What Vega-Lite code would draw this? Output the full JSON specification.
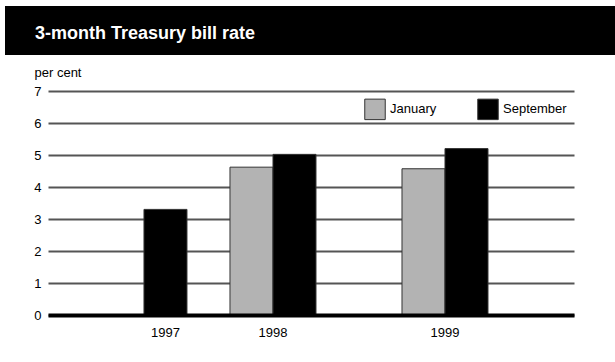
{
  "$schema": "https://vega.github.io/schema/vega-lite/v6.json",
  "padding": {"left": 5, "top": 6, "right": 0, "bottom": 0},
  "background": "white",
  "config": {"font": "Liberation Sans", "view": {"stroke": null}},
  "spacing": 11,
  "resolve": {"legend": {"color": "independent"}},
  "vconcat": [
    {
      "width": 610,
      "height": 49,
      "view": {"fill": "black", "stroke": null},
      "title": {"text": "3-month Treasury bill rate", "anchor": "start", "orient": "top", "frame": "group", "offset": -51, "baseline": "alphabetic", "dx": 30, "color": "white", "fontSize": 18, "fontWeight": "bold", "font": "Liberation Sans"},
      "data": {"values": []},
      "mark": "point"
    },
    {
      "spacing": 0,
      "resolve": {"legend": {"color": "independent"}},
      "hconcat": [
        {"width": 1, "height": 1, "data": {"values": []}, "mark": "point"},
        {
          "width": 526,
          "height": 224,
          "data": {"values": [
            {"period": "Sep 1997", "year": "1997", "month": "September", "rate": 3.3},
            {"period": "Jan 1998", "year": "1998", "month": "January", "rate": 4.62},
            {"period": "Sep 1998", "year": "1998", "month": "September", "rate": 5.02},
            {"period": "Jan 1999", "year": "1999", "month": "January", "rate": 4.57},
            {"period": "Sep 1999", "year": "1999", "month": "September", "rate": 5.2}
          ]},
          "mark": {"type": "bar", "stroke": "#333333", "strokeWidth": 1},
          "encoding": {
            "x": {
              "field": "period", "type": "nominal", "sort": null,
              "scale": {"domain": ["gap a", "gap b", "Sep 1997", "gap c", "Jan 1998", "Sep 1998", "gap d", "gap e", "Jan 1999", "Sep 1999", "gap f", "gap g"], "paddingInner": 0, "paddingOuter": 0.116, "align": 1},
              "axis": {"title": null, "values": ["Sep 1997", "Jan 1998", "Jan 1999"], "labelExpr": "slice(datum.value, 4)", "labelAngle": 0,
                "labelOffset": {"condition": {"test": "slice(datum.value, 0, 3) == 'Jan'", "value": 21.5}, "value": 0},
                "ticks": false, "tickSize": 0, "labelPadding": 11, "domainColor": "black", "domainWidth": 4, "labelFontSize": 13, "labelColor": "black", "zindex": 1}
            },
            "y": {
              "field": "rate", "type": "quantitative", "stack": null,
              "scale": {"domain": [0, 7], "nice": false},
              "axis": {"title": "per cent", "titleAngle": 0, "titleX": -14, "titleY": -14.5, "titleAlign": "left", "titleBaseline": "alphabetic", "titleFontWeight": "normal", "titleFontSize": 13, "titleColor": "black",
                "values": [0, 1, 2, 3, 4, 5, 6, 7], "domain": false, "ticks": false, "tickSize": 0, "labelPadding": 7, "labelFontSize": 13, "labelColor": "black",
                "grid": true, "gridColor": "#555555", "gridWidth": 2, "minExtent": 42}
            },
            "color": {
              "field": "month", "type": "nominal",
              "scale": {"domain": ["January", "September"], "range": ["#b3b3b3", "#000000"]},
              "legend": {"title": null, "orient": "top-right", "direction": "horizontal", "offset": 7, "symbolType": "square", "symbolSize": 420, "symbolStrokeColor": "#333333", "symbolStrokeWidth": 1, "symbolOpacity": 1, "labelFontSize": 13, "labelColor": "black", "labelOffset": 4, "columnPadding": 38, "padding": 0}
            }
          }
        }
      ]
    }
  ]
}
